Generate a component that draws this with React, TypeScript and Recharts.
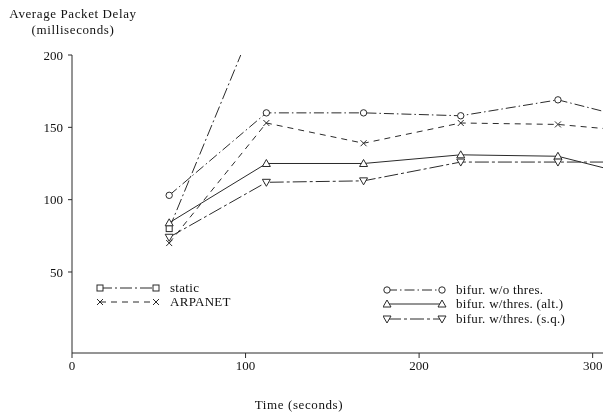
import { CartesianGrid, Legend, Line, LineChart, XAxis, YAxis } from "recharts";

// time (s) at which each measurement was taken
const times = [56, 112, 168, 224, 280, 336];

// average packet delay (ms) for each routing scheme
const staticDelay = [80, 243, null, null, null, null];
const arpanetDelay = [70, 153, 139, 153, 152, 146];
const bifurNoThres = [103, 160, 160, 158, 169, 152];
const bifurThresAlt = [84, 125, 125, 131, 130, 113];
const bifurThresSq = [74, 112, 113, 126, 126, 126];

const xTicks = [0, 100, 200, 300];
const yTicks = [50, 100, 150, 200];

const ink = "#2a2a2a";
const font = "'Liberation Serif', 'DejaVu Serif', serif";

type Shape = "square" | "x" | "circle" | "up" | "down";

const series: { key: string; name: string; shape: Shape; dash?: string; group: number }[] = [
  { key: "static", name: "static", shape: "square", dash: "12 3 2 3", group: 0 },
  { key: "arpanet", name: "ARPANET", shape: "x", dash: "6 5", group: 0 },
  { key: "noThres", name: "bifur. w/o thres.", shape: "circle", dash: "10 3 1.5 3", group: 1 },
  { key: "alt", name: "bifur. w/thres. (alt.)", shape: "up", group: 1 },
  { key: "sq", name: "bifur. w/thres. (s.q.)", shape: "down", dash: "14 3 3 3", group: 1 },
];

const data = times.map((t, i) => ({
  t,
  static: staticDelay[i],
  arpanet: arpanetDelay[i],
  noThres: bifurNoThres[i],
  alt: bifurThresAlt[i],
  sq: bifurThresSq[i],
}));

function Marker({ shape, cx, cy }: { shape: Shape; cx: number; cy: number }) {
  const p = { fill: "#fff", stroke: ink, strokeWidth: 1 };
  if (shape === "square") return <rect x={cx - 3} y={cy - 3} width={6} height={6} {...p} />;
  if (shape === "circle") return <circle cx={cx} cy={cy} r={3.2} {...p} />;
  if (shape === "up") return <path d={`M${cx},${cy - 4}L${cx + 4},${cy + 3}L${cx - 4},${cy + 3}Z`} {...p} />;
  if (shape === "down") return <path d={`M${cx - 4},${cy - 3}L${cx + 4},${cy - 3}L${cx},${cy + 4}Z`} {...p} />;
  return (
    <path d={`M${cx - 3},${cy - 3}L${cx + 3},${cy + 3}M${cx + 3},${cy - 3}L${cx - 3},${cy + 3}`} stroke={ink} strokeWidth={1} />
  );
}

function LegendBox() {
  const rows = [
    { left: 100, text: 170, tops: [282, 296] },
    { left: 387, text: 456, tops: [284, 298, 313] },
  ];
  return (
    <div style={{ position: "relative", width: 0, height: 0 }}>
      {series.map((s) => {
        const g = rows[s.group];
        const idx = series.filter((o) => o.group === s.group).indexOf(s);
        return (
          <div
            key={s.key}
            style={{
              position: "absolute",
              left: g.left - 4,
              top: g.tops[idx],
              display: "flex",
              alignItems: "center",
              whiteSpace: "nowrap",
              fontFamily: font,
              fontSize: 13,
              color: "#111",
            }}
          >
            <svg width={g.text - g.left + 4} height={12} style={{ display: "block" }}>
              <line x1={4} y1={6} x2={g.text - g.left - 10} y2={6} stroke={ink} strokeDasharray={s.dash} />
              <Marker shape={s.shape} cx={4} cy={6} />
              <Marker shape={s.shape} cx={g.text - g.left - 10} cy={6} />
            </svg>
            <span style={{ lineHeight: "12px", letterSpacing: 0.3 }}>{s.name}</span>
          </div>
        );
      })}
    </div>
  );
}

export default function App() {
  return (
    <div style={{ width: 603, height: 416, overflow: "hidden", position: "fixed", left: 0, top: 0 }}>
      <style>{`html,body{margin:0;overflow:hidden}`}</style>
      <LineChart width={610} height={416} data={data} margin={{ top: 55, right: 0, bottom: 33, left: 0 }}>
        <CartesianGrid stroke="none" />
        <XAxis
          dataKey="t"
          type="number"
          domain={[0, 310]}
          ticks={xTicks}
          allowDataOverflow
          stroke={ink}
          tickSize={5}
          tickMargin={3}
          height={30}
          tick={{ fill: "#111", fontFamily: font, fontSize: 13 }}
          label={{
            value: "Time (seconds)",
            position: "insideBottom",
            content: ({ viewBox }: any) => (
              <text
                x={viewBox.x + 227}
                y={viewBox.y + 56}
                textAnchor="middle"
                fill="#111"
                fontFamily={font}
                fontSize={13}
                letterSpacing={0.6}
              >
                Time (seconds)
              </text>
            ),
          }}
        />
        <YAxis
          type="number"
          domain={[-6, 200]}
          ticks={yTicks}
          allowDataOverflow
          width={72}
          stroke={ink}
          tickSize={4}
          tickMargin={5}
          tick={{ fill: "#111", fontFamily: font, fontSize: 13 }}
          label={{
            value: "Average Packet Delay",
            content: ({ viewBox }: any) => (
              <text textAnchor="middle" fill="#111" fontFamily={font} fontSize={13} letterSpacing={0.6}>
                <tspan x={viewBox.x + viewBox.width + 1} y={18}>Average Packet Delay</tspan>
                <tspan x={viewBox.x + viewBox.width + 1} y={34}>(milliseconds)</tspan>
              </text>
            ),
          }}
        />
        <Legend content={() => <LegendBox />} wrapperStyle={{ position: "absolute", left: 0, top: 0, width: 0, height: 0 }} />
        {series.map((s) => (
          <Line
            key={s.key}
            dataKey={s.key}
            name={s.name}
            type="linear"
            stroke={ink}
            strokeWidth={1}
            strokeDasharray={s.dash}
            isAnimationActive={false}
            connectNulls={false}
            dot={(props: any) =>
              props.cx == null || props.cy == null || props.value == null ? (
                <g key={`${s.key}-${props.index}`} />
              ) : (
                <Marker key={`${s.key}-${props.index}`} shape={s.shape} cx={props.cx} cy={props.cy} />
              )
            }
            activeDot={false}
          />
        ))}
      </LineChart>
    </div>
  );
}
